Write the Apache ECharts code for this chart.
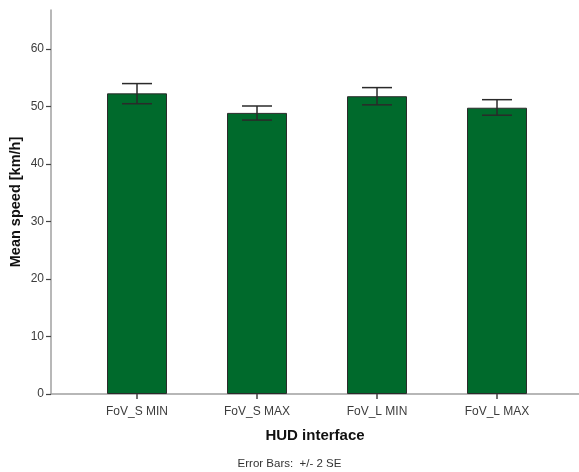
<!DOCTYPE html>
<html>
<head>
<meta charset="utf-8">
<script src="https://cdn.jsdelivr.net/npm/echarts@6/dist/echarts.min.js"></script>
<style>
html,body{margin:0;padding:0;background:#fff;}
#chart{width:579px;height:472px;}
</style>
</head>
<body>
<div id="chart"></div>
<script>
var categories = ['FoV_S MIN', 'FoV_S MAX', 'FoV_L MIN', 'FoV_L MAX'];
var meanSpeed = [52.3, 48.9, 51.8, 49.8];
var errLow = [50.5, 47.65, 50.3, 48.5];
var errHigh = [54.0, 50.1, 53.3, 51.2];
var yTicks = [0, 10, 20, 30, 40, 50, 60];
var xTicks = [0, 1, 2, 3];

var FONT = 'Liberation Sans, Arial, sans-serif';
var chart = echarts.init(document.getElementById('chart'));

var barData = meanSpeed.map(function (v, i) { return [i, v]; });
var errData = errLow.map(function (lo, i) { return [i, lo, errHigh[i]]; });

chart.setOption({
  animation: false,
  backgroundColor: '#ffffff',
  title: {
    text: 'Error Bars:  +/- 2 SE',
    left: 'center',
    bottom: -3,
    textStyle: { fontFamily: FONT, fontSize: 11.5, fontWeight: 'normal', color: '#333333' }
  },
  grid: { left: 51, right: 0, top: 10, bottom: 78, containLabel: false, outerBoundsMode: 'none' },
  xAxis: {
    type: 'value',
    min: -0.7167,
    max: 3.6833,
    name: 'HUD interface',
    nameLocation: 'middle',
    nameGap: 34,
    nameMoveOverlap: false,
    nameTextStyle: { fontFamily: FONT, fontSize: 15, fontWeight: 'bold', color: '#111111' },
    splitLine: { show: false },
    axisLine: { show: true, onZero: false, lineStyle: { color: '#a0a0a0', width: 1.5 } },
    axisTick: { show: true, length: 5, customValues: xTicks, lineStyle: { color: '#444444', width: 1.5 } },
    axisLabel: {
      customValues: xTicks,
      margin: 12,
      fontFamily: FONT, fontSize: 12, color: '#3c3c3c',
      formatter: function (v) { return categories[Math.round(v)] || ''; }
    }
  },
  yAxis: {
    type: 'value',
    min: 0,
    max: 66.8,
    name: 'Mean speed [km/h]',
    nameLocation: 'middle',
    nameGap: 28,
    nameMoveOverlap: false,
    nameTextStyle: { fontFamily: FONT, fontSize: 14.5, fontWeight: 'bold', color: '#111111' },
    splitLine: { show: false },
    axisLine: { show: true, onZero: false, lineStyle: { color: '#a0a0a0', width: 1.5 } },
    axisTick: { show: true, length: 5, customValues: yTicks, lineStyle: { color: '#444444', width: 1.2 } },
    axisLabel: {
      customValues: yTicks,
      margin: 7,
      fontFamily: FONT, fontSize: 12, color: '#3c3c3c'
    }
  },
  series: [
    {
      type: 'bar',
      data: barData,
      barWidth: 60,
      itemStyle: { color: '#006a2c', borderColor: '#2b2b2b', borderWidth: 1 },
      z: 2
    },
    {
      type: 'custom',
      data: errData,
      z: 3,
      renderItem: function (params, api) {
        var x = api.value(0);
        var lo = api.coord([x, api.value(1)]);
        var hi = api.coord([x, api.value(2)]);
        var half = 15;
        var style = { stroke: '#2a2a2a', lineWidth: 1.5 };
        return {
          type: 'group',
          children: [
            { type: 'line', shape: { x1: hi[0], y1: hi[1], x2: lo[0], y2: lo[1] }, style: style },
            { type: 'line', shape: { x1: hi[0] - half, y1: hi[1], x2: hi[0] + half, y2: hi[1] }, style: style },
            { type: 'line', shape: { x1: lo[0] - half, y1: lo[1], x2: lo[0] + half, y2: lo[1] }, style: style }
          ]
        };
      }
    }
  ]
});
</script>
</body>
</html>
